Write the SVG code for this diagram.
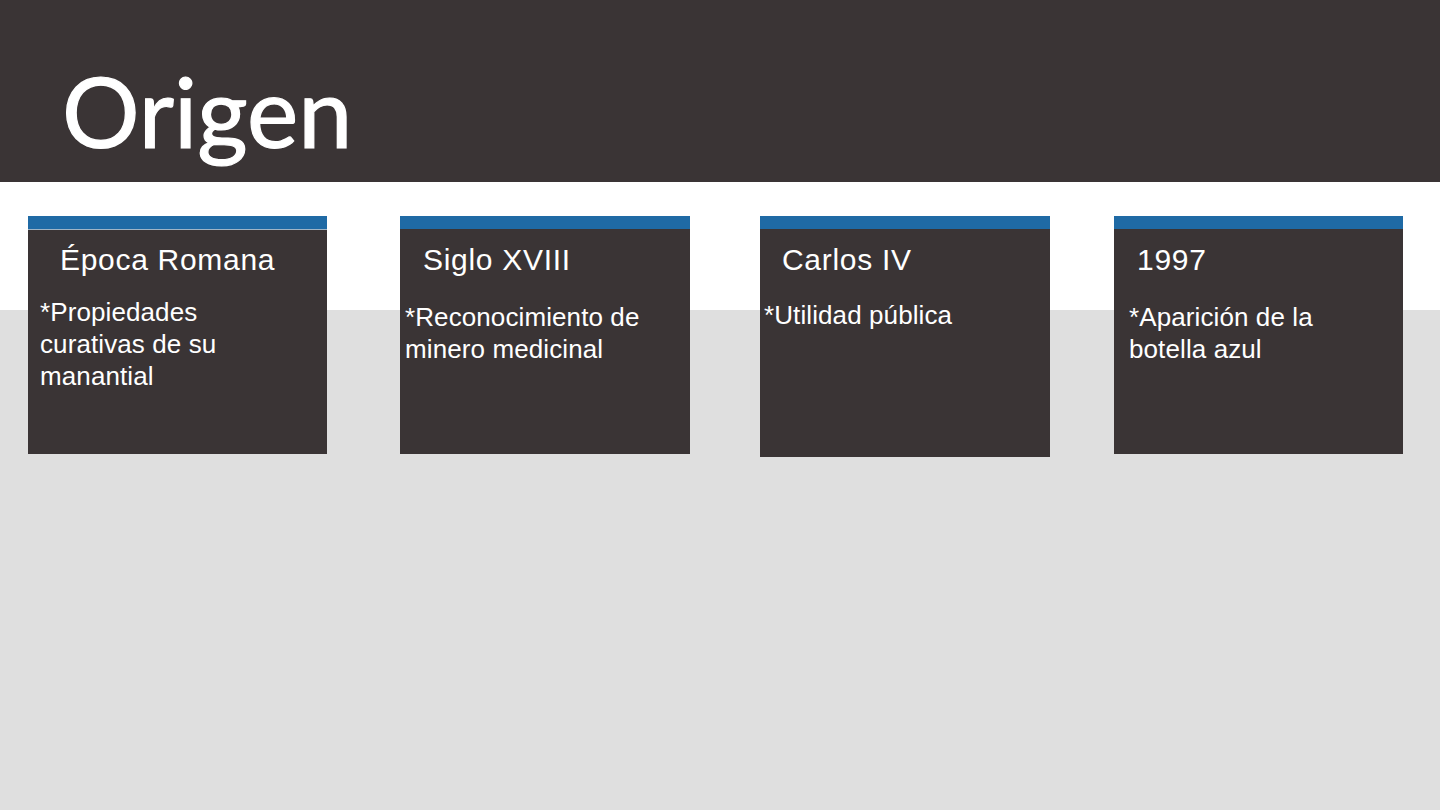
<svg xmlns="http://www.w3.org/2000/svg" width="1440" height="810" viewBox="0 0 1440 810">
<style>
.dark{fill:#3a3435}
.blue{fill:#1f6aa5}
.ttl{font-family:"Liberation Sans",Arial,sans-serif;font-size:30px;fill:#fff;letter-spacing:0.7px}
.body{font-family:"Liberation Sans",Arial,sans-serif;font-size:26px;fill:#fff;letter-spacing:0.1px}
</style>
<rect x="0" y="0" width="1440" height="810" fill="#ffffff"/>
<rect x="0" y="310" width="1440" height="500" fill="#dfdfdf"/>
<rect x="0" y="0" width="1440" height="182" class="dark"/>
<text x="62" y="148" font-family="Lato, sans-serif" font-size="97" fill="#fff" stroke="#fff" stroke-width="1.2">Origen</text>
<g id="node-epoca">
<rect x="28" y="216" width="299" height="238" class="dark"/>
<rect x="28" y="216" width="299" height="13" class="blue"/>
<line x1="28" y1="229.5" x2="327" y2="229.5" stroke="#9fb4c6" stroke-width="1"/>
<text x="60" y="270" class="ttl">Época Romana</text>
<text x="40" y="321" class="body">*Propiedades</text>
<text x="40" y="353" class="body">curativas de su</text>
<text x="40" y="385" class="body">manantial</text>
</g>
<g id="node-siglo">
<rect x="400" y="216" width="290" height="238" class="dark"/>
<rect x="400" y="216" width="290" height="13" class="blue"/>
<text x="423" y="270" class="ttl">Siglo XVIII</text>
<text x="405" y="326" class="body">*Reconocimiento de</text>
<text x="405" y="358" class="body">minero medicinal</text>
</g>
<g id="node-carlos">
<rect x="760" y="216" width="290" height="241" class="dark"/>
<rect x="760" y="216" width="290" height="13" class="blue"/>
<text x="782" y="270" class="ttl">Carlos IV</text>
<text x="764" y="324" class="body">*Utilidad pública</text>
</g>
<g id="node-1997">
<rect x="1114" y="216" width="289" height="238" class="dark"/>
<rect x="1114" y="216" width="289" height="13" class="blue"/>
<text x="1137" y="270" class="ttl">1997</text>
<text x="1129" y="326" class="body">*Aparición de la</text>
<text x="1129" y="358" class="body">botella azul</text>
</g>
<g id="connectors"></g>
</svg>
